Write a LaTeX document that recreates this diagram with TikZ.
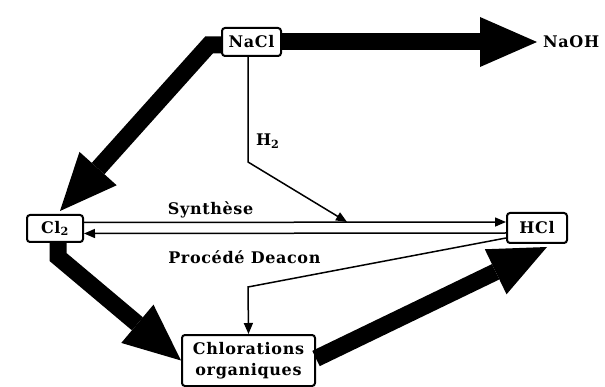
\documentclass[tikz,border=0pt]{standalone}
\usepackage{fontspec}
\setmainfont{DejaVu Serif}[LetterSpace=4]
\usetikzlibrary{arrows.meta}

\tikzset{
  box/.style={draw, rounded corners=3pt, line width=2pt, fill=white, minimum height=28pt, inner sep=2pt},
  fat/.style={line width=17pt, line join=miter, -{Triangle[length=57pt, width=50pt, line width=0pt]}},
  thin/.style={line width=1.5pt, -{Triangle[length=11pt, width=9pt]}},
}

\begin{document}
\begin{tikzpicture}[x=1pt, y=-1pt, font=\fontsize{16}{21}\selectfont\bfseries]
\useasboundingbox (0,0) rectangle (605,387);

\node[box, minimum width=59pt] (nacl) at (251.5,42) {NaCl};
\node[box, minimum width=56pt, minimum height=27pt] (cl) at (55,228.5) {Cl\textsubscript{2}};
\node[box, minimum width=60pt, minimum height=30pt] (hcl) at (537,228) {HCl};
\node[box, minimum width=133pt, minimum height=51pt, align=center] (chl) at (248.5,360.5) {Chlorations\\organiques};
\node[anchor=west, inner sep=0pt] (naoh) at (543,42) {NaOH};

\draw[fat] (nacl.east) -- ([xshift=-6pt]naoh.west);
\draw[fat] ([yshift=-3pt]nacl.west) -- ++(-12,0) -- ([xshift=5pt,yshift=3pt]cl.north);
\draw[fat] ([xshift=3pt]cl.south) -- ++(0,14) -- (chl.west);
\draw[fat] ([yshift=2pt]chl.east) -- ([xshift=10pt,yshift=-3pt]hcl.south);

\draw[thin] ([yshift=6pt]cl.east) -- node[above, pos=0.3] (syn) {Synthèse} ([yshift=6pt]hcl.west);
\draw[thin] ([yshift=-5pt]hcl.west) -- node[below=13pt, pos=0.62] (dea) {Procédé Deacon} ([yshift=-5pt]cl.east);

\coordinate (hbend) at (248,162);
\coordinate (hmeet) at (347,222);
\draw[thin] ([xshift=-3.5pt]nacl.south) -- node[right=4pt, pos=0.8] (h) {H\textsubscript{2}} (hbend) -- (hmeet);

\coordinate (dbend) at (248,287);
\draw[thin] ([yshift=-10pt]hcl.west) -- (dbend) -- (chl.north);
\end{tikzpicture}
\end{document}
